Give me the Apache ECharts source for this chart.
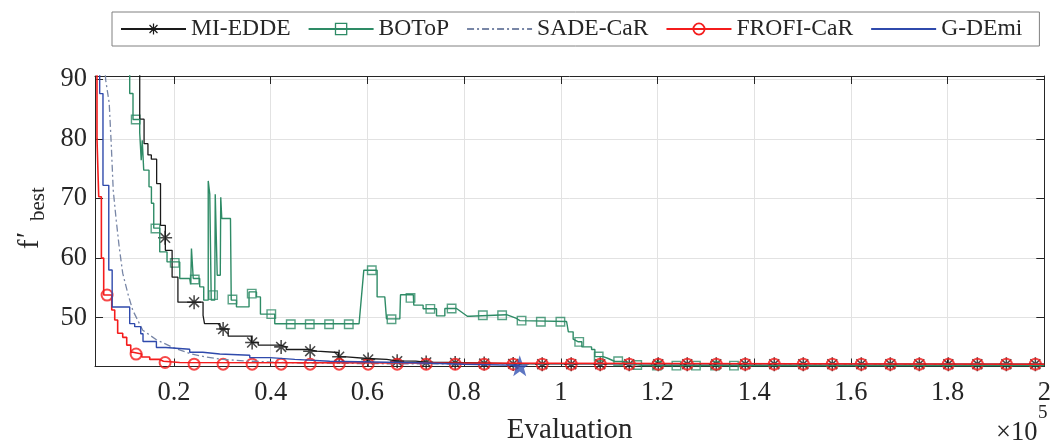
<!DOCTYPE html>
<html><head><meta charset="utf-8">
<script src="https://cdn.jsdelivr.net/npm/echarts@6/dist/echarts.min.js"></script>
<style>html,body{margin:0;padding:0;background:#fff}#c{width:1064px;height:443px}</style>
</head><body><div id="c"></div>
<script>
// ---------- data (x in units of 1e5 evaluations) ----------
const seriesNames = ['MI-EDDE', 'BOToP', 'SADE-CaR', 'FROFI-CaR', 'G-DEmi'];
const xTicks = [0.2, 0.4, 0.6, 0.8, 1.0, 1.2, 1.4, 1.6, 1.8, 2.0];
const yTicks = [50, 60, 70, 80, 90];

const miEdde = [[0.120,95],[0.129,83.3],[0.138,79.2],[0.146,77.3],[0.153,76.6],[0.164,72.5],[0.172,65.5],[0.182,61.3],[0.196,56.8],[0.208,52.6],[0.260,50.4],[0.263,49.0],[0.295,48.1],[0.312,46.9],[0.360,45.84],[0.374,45.4],[0.420,45.1],[0.432,44.66],[0.480,44.38],[0.495,44.16],[0.540,43.44],[0.557,43.15],[0.600,42.99],[0.640,42.75],[0.660,42.7],[0.700,42.55],[0.720,42.5],[0.770,42.4],[0.830,42.3],[0.890,42.25],[0.950,42.2],[2.0,42.2]];
const miEddeMarks = [[0.1815,63.4],[0.2415,52.6],[0.3015,48.1],[0.3615,45.84],[0.4215,45.1],[0.4815,44.38],[0.5415,43.44],[0.6015,42.99],[0.6615,42.7],[0.7215,42.5],[0.7815,42.4],[0.8415,42.3],[0.9015,42.25],[0.9615,42.2],[1.0215,42.2],[1.0815,42.2],[1.1415,42.2],[1.2015,42.2],[1.2615,42.2],[1.3215,42.2],[1.3815,42.2],[1.4415,42.2],[1.5015,42.2],[1.5615,42.2],[1.6215,42.2],[1.6815,42.2],[1.7415,42.2],[1.8015,42.2],[1.8615,42.2],[1.9215,42.2],[1.9815,42.2]];

const botop = [[0.1083,95],[0.1083,87.62],[0.1151,87.62],[0.1151,83.26],[0.1290,83.26],[0.1290,81.01],[0.1321,81.01],[0.1321,76.43],[0.1342,76.43],[0.1342,79.78],[0.1373,79.78],[0.1373,74.75],[0.1482,74.75],[0.1482,71.95],[0.1532,71.95],[0.1532,69.21],[0.1580,69.21],[0.1580,65.02],[0.1704,65.02],[0.1704,61.04],[0.1855,61.04],[0.1855,59.36],[0.2118,59.36],[0.2118,56.58],[0.2324,56.58],[0.2345,55.62],[0.2360,61.61],[0.2376,61.61],[0.2397,56.58],[0.2531,56.58],[0.2531,55.17],[0.2614,55.17],[0.2614,52.94],[0.2707,52.94],[0.2707,72.95],[0.2739,70.72],[0.2769,70.72],[0.2769,52.94],[0.2842,52.94],[0.2852,70.72],[0.2893,70.72],[0.2893,57.13],[0.2956,57.13],[0.2966,70.22],[0.2987,70.22],[0.2987,66.64],[0.3167,66.64],[0.3183,52.94],[0.3291,52.94],[0.3291,51.81],[0.3551,51.81],[0.3551,54.33],[0.3705,54.33],[0.3705,53.49],[0.3787,53.49],[0.3787,50.59],[0.4083,50.59],[0.4083,48.99],[0.5827,48.99],[0.5925,57.97],[0.6200,57.97],[0.6200,53.49],[0.6359,53.49],[0.6394,49.80],[0.6670,49.80],[0.6684,53.86],[0.6949,53.86],[0.6959,52.10],[0.7152,52.10],[0.7152,51.51],[0.7429,51.51],[0.7429,50.30],[0.7601,50.30],[0.7601,51.54],[0.7843,51.54],[0.8066,50.25],[0.8118,50.25],[0.8118,50.50],[0.8877,50.50],[0.9084,49.87],[0.9153,49.50],[1.0119,49.36],[1.0156,47.62],[1.0255,47.62],[1.0255,46.39],[1.0353,45.97],[1.0435,45.97],[1.0435,45.10],[1.0636,45.10],[1.0636,44.66],[1.0704,44.66],[1.0704,43.46],[1.0876,43.46],[1.0876,43.15],[1.0980,43.15],[1.1118,42.65],[1.1290,42.65],[1.1290,42.48],[1.1429,42.37],[1.1573,42.11],[1.1739,41.95],[2.0,41.95]];
const botopMarks = [[0.1207,83.26],[0.1615,64.97],[0.2014,59.19],[0.2428,56.41],[0.2807,53.78],[0.3208,53.05],[0.3607,54.03],[0.4011,50.59],[0.4414,48.91],[0.4807,48.91],[0.5207,48.91],[0.5614,48.91],[0.6090,57.97],[0.6498,49.75],[0.6891,53.32],[0.7301,51.48],[0.7741,51.54],[0.8387,50.42],[0.8786,50.42],[0.9188,49.50],[0.9587,49.33],[0.9991,49.33],[1.0380,45.94],[1.0783,43.49],[1.1186,42.70],[1.1580,42.06],[1.1987,41.95],[1.2391,41.95],[1.2794,41.95],[1.3190,41.95],[1.3581,41.95]];

const sade = [[0.0555,93.2],[0.0587,89.85],[0.0659,85.99],[0.0700,79.28],[0.0742,71.39],[0.0804,66.36],[0.0866,61.83],[0.0938,57.47],[0.1042,54.11],[0.1145,51.26],[0.1352,47.9],[0.1635,46.3],[0.1979,45.0],[0.2324,44.0],[0.2655,43.4],[0.3013,43.0],[0.3566,42.7],[0.4600,42.4],[0.6670,42.25],[2.0,42.2]];

const frofi = [[0.036,95],[0.0406,80.0],[0.0442,70.3],[0.0497,60.0],[0.0545,53.8],[0.0711,51.3],[0.0773,49.6],[0.0834,47.4],[0.0938,46.7],[0.1021,45.4],[0.1104,44.2],[0.1150,43.9],[0.1331,43.4],[0.1497,43.0],[0.1704,42.7],[0.1780,42.48],[0.2118,42.2],[2.0,42.2]];
const frofiMarks = [[0.0615,53.8],[0.1215,43.9],[0.1815,42.48],[0.2415,42.2],[0.3015,42.2],[0.3615,42.2],[0.4215,42.2],[0.4815,42.2],[0.5415,42.2],[0.6015,42.2],[0.6615,42.2],[0.7215,42.2],[0.7815,42.2],[0.8415,42.2],[0.9015,42.2],[0.9615,42.2],[1.0215,42.2],[1.0815,42.2],[1.1415,42.2],[1.2015,42.2],[1.2615,42.2],[1.3215,42.2],[1.3815,42.2],[1.4415,42.2],[1.5015,42.2],[1.5615,42.2],[1.6215,42.2],[1.6815,42.2],[1.7415,42.2],[1.8015,42.2],[1.8615,42.2],[1.9215,42.2],[1.9815,42.2]];

const gdemi = [[0.040,95],[0.0462,87.6],[0.0530,72.2],[0.0650,58.0],[0.0720,51.8],[0.1083,49.0],[0.1186,48.5],[0.1311,47.3],[0.1358,46.0],[0.1635,45.0],[0.1828,44.7],[0.2324,44.2],[0.2594,43.9],[0.2945,43.7],[0.3566,43.3],[0.3980,43.0],[0.4497,42.7],[0.5221,42.45],[0.700,42.2],[0.800,42.0],[0.915,41.95]];
const gdemiEnd = [[0.915,41.95]];

// ---------- styling ----------
const FONT = "'Liberation Serif', 'Times New Roman', serif";
const TXT = '#262626';
const C = {black:'#1a1a1a', green:'#2e8b66', sade:'#7886a6', red:'#f41c1c', blue:'#2f4aac', star:'#3553b3'};
const ASTER = 'path://M8.9,0L11.1,0L11.1,20L8.9,20Z M0,8.9L20,8.9L20,11.1L0,11.1Z M2.15,3.7L3.7,2.15L17.85,16.3L16.3,17.85Z M16.3,2.15L17.85,3.7L3.7,17.85L2.15,16.3Z';
const STAR = 'path://M10,0L12.35,6.76L19.51,6.91L13.8,11.24L15.88,18.09L10,14L4.12,18.09L6.2,11.24L0.49,6.91L7.65,6.76Z';

const X0 = 0.0365, X1 = 2.0, Y0 = 41.81, Y1 = 90.55;
const fmtX = v => String(Math.round(v * 10) / 10);

function xAx(pos, labels) {
  return {
    type: 'value', position: pos, min: X0, max: X1,
    axisLine: {show: true, onZero: false, lineStyle: {color: TXT, width: 1}},
    axisTick: {show: true, inside: true, length: 8, customValues: xTicks, lineStyle: {color: TXT}},
    axisLabel: {show: labels, customValues: xTicks, formatter: fmtX, margin: 13,
      fontFamily: FONT, fontSize: 26.5, color: TXT},
    splitLine: {show: labels, lineStyle: {color: '#e2e2e2', width: 1}},
    name: labels ? 'Evaluation' : '', nameLocation: 'middle', nameGap: 49,
    nameTextStyle: {fontFamily: FONT, fontSize: 29, color: TXT}
  };
}
function yAx(pos, labels) {
  return {
    type: 'value', position: pos, min: Y0, max: Y1,
    axisLine: {show: true, onZero: false, lineStyle: {color: TXT, width: 1}},
    axisTick: {show: true, inside: true, length: 8, customValues: yTicks, lineStyle: {color: TXT}},
    axisLabel: {show: labels, customValues: yTicks, margin: 8,
      fontFamily: FONT, fontSize: 26.5, color: TXT},
    splitLine: {show: labels, lineStyle: {color: '#e2e2e2', width: 1}}
  };
}

const legendItems = [
  {name: seriesNames[0]},
  {name: seriesNames[1], itemStyle: {color: 'rgba(0,0,0,0)', borderColor: C.green, borderWidth: 1.3}},
  {name: seriesNames[2], itemStyle: {opacity: 0}},
  {name: seriesNames[3], itemStyle: {color: 'rgba(0,0,0,0)', borderColor: C.red, borderWidth: 1.8}},
  {name: seriesNames[4], itemStyle: {opacity: 0}}
];

const lineBase = {type: 'line', showSymbol: false, silent: true, animation: false, clip: true, emphasis: {disabled: true}};
const markBase = {type: 'scatter', silent: true, animation: false, clip: true, emphasis: {disabled: true}};

const option = {
  animation: false,
  backgroundColor: '#fff',
  grid: {left: 95, top: 76, width: 949.3, height: 290.5, containLabel: false, outerBoundsMode: 'none'},
  xAxis: [xAx('bottom', true), xAx('top', false)],
  yAxis: [yAx('left', true), yAx('right', false)],
  legend: {
    data: legendItems, left: 112, top: 12, orient: 'horizontal', selectedMode: false,
    itemWidth: 65, itemHeight: 14, itemGap: 17, padding: [5, 17, 5, 8],
    borderColor: '#808080', borderWidth: 1, backgroundColor: '#fff',
    textStyle: {fontFamily: FONT, fontSize: 23.6, color: TXT}
  },
  series: [
    Object.assign({}, lineBase, {name: seriesNames[0], data: miEdde, step: 'end', symbol: ASTER,
      itemStyle: {color: C.black}, lineStyle: {color: C.black, width: 1.3}}),
    Object.assign({}, markBase, {name: 'MI-EDDE marks', data: miEddeMarks, symbol: ASTER, symbolSize: 14,
      itemStyle: {color: C.black}}),
    Object.assign({}, lineBase, {name: seriesNames[1], data: botop, symbol: 'rect',
      itemStyle: {color: C.green}, lineStyle: {color: C.green, width: 1.4}}),
    Object.assign({}, markBase, {name: 'BOToP marks', data: botopMarks, symbol: 'rect', symbolSize: 8.5,
      itemStyle: {color: 'rgba(0,0,0,0)', borderColor: C.green, borderWidth: 1.4}}),
    Object.assign({}, lineBase, {name: seriesNames[2], data: sade, symbol: 'circle',
      itemStyle: {color: C.sade}, lineStyle: {color: C.sade, width: 1.3, type: [7, 3, 2, 3]}}),
    Object.assign({}, lineBase, {name: seriesNames[3], data: frofi, step: 'end', symbol: 'circle',
      itemStyle: {color: C.red}, lineStyle: {color: C.red, width: 1.6}}),
    Object.assign({}, markBase, {name: 'FROFI-CaR marks', data: frofiMarks, symbol: 'circle', symbolSize: 11,
      itemStyle: {color: 'rgba(0,0,0,0)', borderColor: C.red, borderWidth: 2}}),
    Object.assign({}, lineBase, {name: seriesNames[4], data: gdemi, step: 'end', symbol: 'circle',
      itemStyle: {color: C.blue}, lineStyle: {color: C.blue, width: 1.4}}),
    Object.assign({}, markBase, {name: 'G-DEmi end', data: gdemiEnd, symbol: STAR, symbolSize: 21,
      itemStyle: {color: C.star}})
  ],
  graphic: [
    {type: 'group', x: 30, y: 249, rotation: Math.PI / 2, silent: true, children: [
      {type: 'text', x: 0, y: 0, style: {text: 'f', font: '28.6px ' + FONT, fill: TXT, align: 'left', verticalAlign: 'middle'}},
      {type: 'text', x: 11, y: -2, style: {text: '\u2032', font: '28.6px ' + FONT, fill: TXT, align: 'left', verticalAlign: 'middle'}},
      {type: 'text', x: 28, y: 8, style: {text: 'best', font: '21px ' + FONT, fill: TXT, align: 'left', verticalAlign: 'middle'}}
    ]},
    {type: 'text', x: 996, y: 433, silent: true, style: {text: '\u00d710', font: '26.5px ' + FONT, fill: TXT, align: 'left', verticalAlign: 'middle'}},
    {type: 'text', x: 1038, y: 413, silent: true, style: {text: '5', font: '19px ' + FONT, fill: TXT, align: 'left', verticalAlign: 'middle'}}
  ]
};

const chart = echarts.init(document.getElementById('c'), null, {renderer: 'canvas'});
chart.setOption(option);
</script>
</body></html>
